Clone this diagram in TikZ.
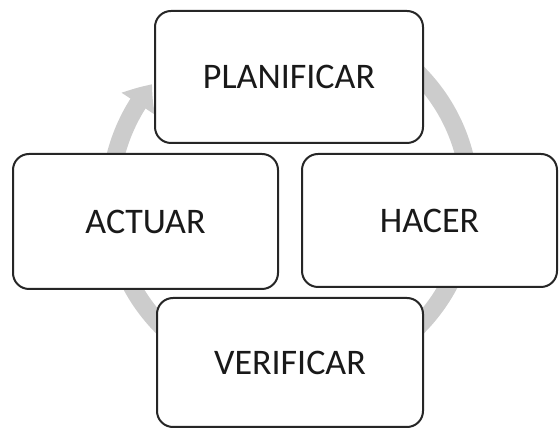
\documentclass[tikz,border=0pt]{standalone}
\usepackage{fontspec}
\setmainfont{Carlito}
\usetikzlibrary{arrows.meta,bending}

\begin{document}
\begin{tikzpicture}[x=1pt,y=1pt]
\tikzstyle{etapa}=[rectangle,draw=black!85,line width=2pt,rounded corners=16pt,fill=white,text=black!90,font=\fontsize{36}{40}\selectfont]
\tikzstyle{ciclo}=[draw=black!20,line width=18pt,-{Triangle[width=38pt,length=24pt,bend]}]

\useasboundingbox (0,0) rectangle (559,430);
\coordinate (centro) at (290,230);
\draw[ciclo] ([shift={(100:180)}]centro) arc[start angle=100,end angle=-220,radius=180];

\node[etapa,minimum width=268pt,minimum height=132pt] (plan) at (289,353) {PLANIFICAR};
\node[etapa,minimum width=265pt,minimum height=135pt] (actuar) at (145.5,208.5) {ACTUAR};
\node[etapa,minimum width=255pt,minimum height=133pt] (hacer) at (429.5,209.5) {HACER};
\node[etapa,minimum width=266pt,minimum height=129pt] (verif) at (290,67.5) {VERIFICAR};
\end{tikzpicture}
\end{document}
